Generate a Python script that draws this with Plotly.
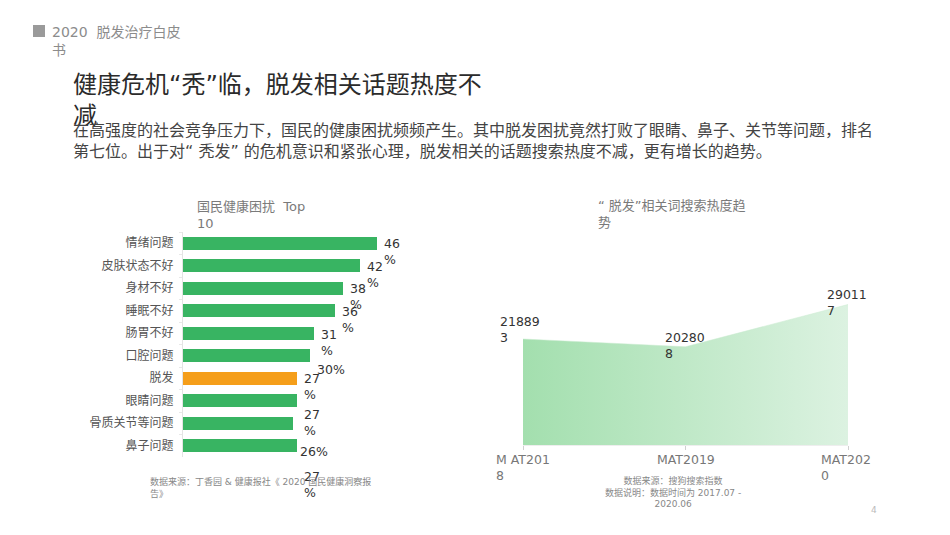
import plotly.graph_objects as go

W, H = 950, 535

# ---------------- data ----------------
categories = ["情绪问题", "皮肤状态不好", "身材不好", "睡眠不好", "肠胃不好",
              "口腔问题", "脱发", "眼睛问题", "骨质关节等问题", "鼻子问题"]
shares = [46, 42, 38, 36, 31, 30, 27, 27, 26, 27]
highlight = "脱发"
share_label_text = ["46<br>%", "42<br>%", "38<br>%", "36<br>%", "31<br>%",
                    "30%", "27<br>%", "27<br>%", "26%", "27<br>%"]
label_drift = [0, 0, 0, 0, 1, 13, 0, 13, 28, 30]   # label drift (px) seen in the reference

periods = ["MAT2018", "MAT2019", "MAT2020"]
search_heat = [218893, 202808, 290117]
period_tick_text = ["M AT201<br>8", "MAT2019", "MAT202<br>0"]
heat_label_text = ["21889<br>3", "20280<br>8", "29011<br>7"]

# ---------------- styling ----------------
LATIN_CJK = "DejaVu Sans, Noto Sans CJK SC, sans-serif"
GREEN = "#38b462"
ORANGE = "#f59e1a"


def px(x):
    return x / W


def py(y):
    return 1 - y / H


fig = go.Figure()

fig.add_trace(go.Bar(
    x=shares, y=categories, orientation="h",
    marker=dict(color=[ORANGE if c == highlight else GREEN for c in categories],
                line=dict(width=0)),
    width=0.58, xaxis="x", yaxis="y", hoverinfo="skip", showlegend=False,
))

fig.add_trace(go.Scatter(
    x=periods, y=search_heat, mode="lines", fill="tozeroy",
    fillgradient=dict(type="horizontal",
                      colorscale=[[0, "#a3dfae"], [1, "#dcf2e1"]]),
    line=dict(width=0.5, color="#c8ebcf"),
    xaxis="x2", yaxis="y2", hoverinfo="skip", showlegend=False,
))

annotations = []

# header
annotations.append(dict(xref="paper", yref="paper", x=px(50), y=py(22), xanchor="left",
                        yanchor="top", align="left", showarrow=False,
                        text="2020  脱发治疗白皮<br>书",
                        font=dict(family=LATIN_CJK, size=14, color="#8c8c8c")))
# title
annotations.append(dict(xref="paper", yref="paper", x=px(71), y=py(69), xanchor="left",
                        yanchor="top", align="left", showarrow=False,
                        text="健康危机“秃”临，脱发相关话题热度不<br>减",
                        font=dict(family=LATIN_CJK, size=24, color="#2b2b2b")))
# paragraph
annotations.append(dict(xref="paper", yref="paper", x=px(71), y=py(119), xanchor="left",
                        yanchor="top", align="left", showarrow=False,
                        text="在高强度的社会竞争压力下，国民的健康困扰频频产生。其中脱发困扰竟然打败了眼睛、鼻子、关节等问题，排名"
                             "<br>第七位。出于对“ 秃发” 的危机意识和紧张心理，脱发相关的话题搜索热度不减，更有增长的趋势。",
                        font=dict(family=LATIN_CJK, size=16, color="#444444")))
# chart titles
annotations.append(dict(xref="paper", yref="paper", x=px(195), y=py(197), xanchor="left",
                        yanchor="top", align="left", showarrow=False,
                        text="国民健康困扰  Top<br>10",
                        font=dict(family=LATIN_CJK, size=13, color="#7a7a7a")))
annotations.append(dict(xref="paper", yref="paper", x=px(596), y=py(196), xanchor="left",
                        yanchor="top", align="left", showarrow=False,
                        text="“ 脱发”相关词搜索热度趋<br>势",
                        font=dict(family=LATIN_CJK, size=13, color="#7a7a7a")))

# bar value labels
for c, v, t, d in zip(categories, shares, share_label_text, label_drift):
    annotations.append(dict(xref="x", yref="y", x=v, y=c, xanchor="left", yanchor="top",
                            xshift=5, yshift=9 - d, align="left", showarrow=False, text=t,
                            font=dict(family=LATIN_CJK, size=12.5, color="#333333")))

# area value labels
heat_shift = [(-25, 27), (-23, 19), (-23, 20)]
for p, v, t, (dx, dy) in zip(periods, search_heat, heat_label_text, heat_shift):
    annotations.append(dict(xref="x2", yref="y2", x=p, y=v, xanchor="left", yanchor="top",
                            xshift=dx, yshift=dy, align="left", showarrow=False, text=t,
                            font=dict(family=LATIN_CJK, size=12.5, color="#333333")))

# period tick labels
for p, t in zip(periods, period_tick_text):
    wrapped = "<br>" in t
    annotations.append(dict(xref="x2", yref="paper", x=p, y=py(450),
                            xanchor="left" if wrapped else "center", yanchor="top",
                            xshift=-29 if wrapped else 0, align="left", showarrow=False,
                            text=t, font=dict(family=LATIN_CJK, size=12.5, color="#777777")))

# footnotes
annotations.append(dict(xref="paper", yref="paper", x=px(148), y=py(474), xanchor="left",
                        yanchor="top", align="left", showarrow=False,
                        text="数据来源：丁香园 & 健康报社《 2020 国民健康洞察报<br>告》",
                        font=dict(family=LATIN_CJK, size=9, color="#888888")))
annotations.append(dict(xref="paper", yref="paper", x=px(673), y=py(473), xanchor="center",
                        yanchor="top", align="center", showarrow=False,
                        text="数据来源：搜狗搜索指数<br>数据说明：数据时间为 2017.07 -<br>2020.06",
                        font=dict(family=LATIN_CJK, size=9, color="#888888")))
annotations.append(dict(xref="paper", yref="paper", x=px(874), y=py(510), xanchor="center",
                        yanchor="middle", showarrow=False, text="4",
                        font=dict(family=LATIN_CJK, size=9, color="#bbbbbb")))

fig.update_layout(
    width=W, height=H,
    margin=dict(l=0, r=0, t=0, b=0),
    paper_bgcolor="white", plot_bgcolor="white",
    font=dict(family=LATIN_CJK),
    annotations=annotations,
    bargap=0,
    shapes=[dict(type="rect", xref="paper", yref="paper",
                 x0=px(33), x1=px(45), y0=py(37), y1=py(25),
                 fillcolor="#9a9a9a", line=dict(width=0))],
    xaxis=dict(domain=[px(183), px(394)], range=[0, 50], visible=False, fixedrange=True),
    yaxis=dict(domain=[py(457), py(232)], type="category", range=[9.5, -0.5],
               showline=True, linecolor="#e4e4e4", linewidth=1,
               ticks="outside", tickson="boundaries", ticklen=3, tickcolor="#e8e8e8",
               ticklabelstandoff=6, showgrid=False, zeroline=False,
               tickfont=dict(family=LATIN_CJK, size=12, color="#555555")),
    xaxis2=dict(domain=[px(523), px(848)], type="category", range=[0, 2],
                anchor="y2", showline=True, linecolor="#eeeeee",
                ticks="outside", ticklen=4, tickcolor="#d0d0d0",
                showticklabels=False, showgrid=False, zeroline=False),
    yaxis2=dict(domain=[py(445), py(260)], range=[0, 382000], anchor="x2",
                visible=False, showgrid=False, zeroline=False),
)

fig.write_html("out.html")
